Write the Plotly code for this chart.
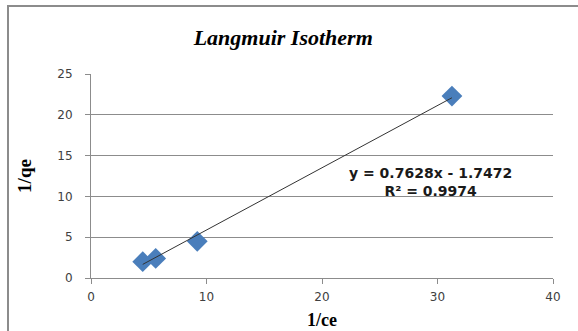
import plotly.graph_objects as go

# Data
inv_ce = [4.48, 5.6, 9.2, 31.25]
inv_qe = [2.0, 2.4, 4.5, 22.3]
slope = 0.7628
intercept = -1.7472
r2 = 0.9974

W, H = 578, 331
ml, mr, mt, mb = 91, 25, 74, 53
pw, ph = W - ml - mr, H - mt - mb

xmin, xmax = min(inv_ce), max(inv_ce)
trend_x = [xmin, xmax]
trend_y = [slope * v + intercept for v in trend_x]

fig = go.Figure()
fig.add_trace(go.Scatter(x=inv_ce, y=inv_qe, mode="markers",
                         marker=dict(symbol="diamond", size=16, color="#4A7EBB",
                                     line=dict(width=0)),
                         showlegend=False))
fig.add_trace(go.Scatter(x=trend_x, y=trend_y, mode="lines",
                         line=dict(color="#333333", width=1), showlegend=False))

fig.add_annotation(x=29.4, y=11.8, xref="x", yref="y",
                   text=f"<b>y = {slope}x - {abs(intercept)}<br>R² = {r2}</b>",
                   showarrow=False, align="center",
                   font=dict(family="DejaVu Sans", size=14, color="#1a1a1a"),
                   )

# outer frame (Excel chart border)
def px_to_paper_x(p):
    return (p - ml) / pw
def px_to_paper_y(p):
    return (H - mb - p) / ph

fig.add_shape(type="rect", xref="paper", yref="paper",
              x0=px_to_paper_x(8), x1=px_to_paper_x(W + 5),
              y0=px_to_paper_y(H + 5), y1=px_to_paper_y(6),
              line=dict(color="#8c8c8c", width=2), layer="below")

fig.update_layout(
    width=W, height=H,
    margin=dict(l=ml, r=mr, t=mt, b=mb),
    paper_bgcolor="white", plot_bgcolor="white",
    title=dict(text="<b><i>Langmuir Isotherm</i></b>", x=0.49, xanchor="center",
               y=1 - 37 / H, yanchor="middle",
               font=dict(family="Liberation Serif", size=22, color="black")),
    xaxis=dict(range=[0, 40], tickvals=[0, 10, 20, 30, 40], showgrid=False,
               automargin=False,
               zeroline=False, showline=True, linecolor="#8c8c8c", linewidth=1,
               ticks="outside", ticklen=5, tickcolor="#8c8c8c", ticklabelstandoff=3,
               tickfont=dict(family="DejaVu Sans", size=12, color="#404040"),
               title=dict(text="<b>1/ce</b>", standoff=9,
                          font=dict(family="Liberation Serif", size=18, color="black"))),
    yaxis=dict(range=[0, 25], tickvals=[0, 5, 10, 15, 20, 25], showgrid=True,
               gridcolor="#8c8c8c", gridwidth=1, automargin=False,
               zeroline=False, showline=True, linecolor="#8c8c8c", linewidth=1,
               ticks="outside", ticklen=5, tickcolor="#8c8c8c", ticklabelstandoff=10,
               tickfont=dict(family="DejaVu Sans", size=12, color="#404040"),
               title=dict(text="<b>1/qe</b>", standoff=20,
                          font=dict(family="Liberation Serif", size=19, color="black"))),
)

fig.write_html("out.html")
